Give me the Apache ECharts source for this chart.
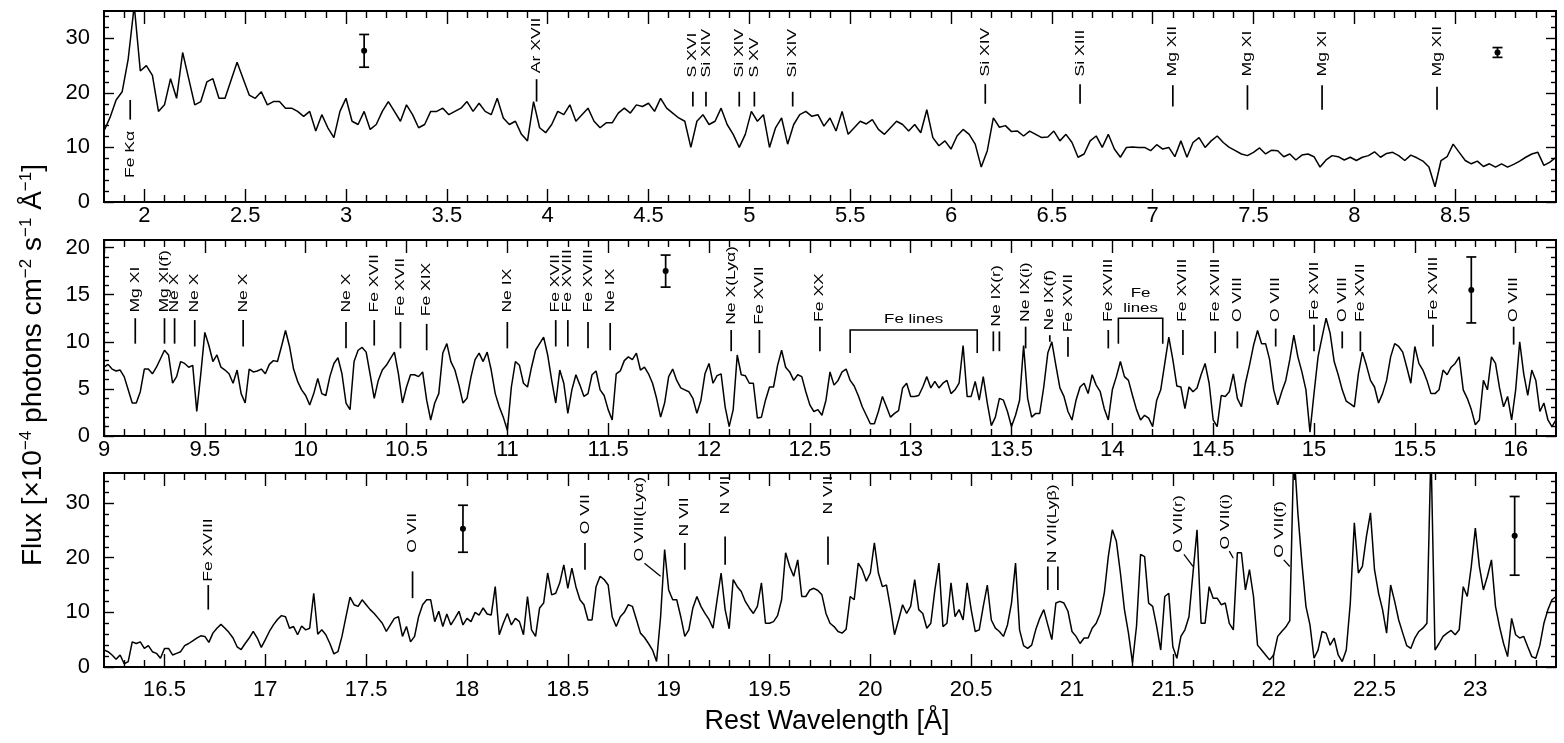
<!DOCTYPE html>
<html><head><meta charset="utf-8">
<script src="https://cdn.jsdelivr.net/npm/echarts@6/dist/echarts.min.js"></script>
<style>html,body{margin:0;padding:0;background:#fff}#c{width:1564px;height:743px}</style>
</head><body><div id="c"></div><script>
const FONT = "'Liberation Sans', Arial, Helvetica, sans-serif";

// ---------- spectrum (flux in 1e-4 photons cm^-2 s^-1 A^-1) ----------
const topStart = 1.8, topStep = 0.03;
const topFlux = [13.0,15.5,18.7,20.2,26.2,36,24,25,23.2,16.6,
17.8,22.6,19.0,27.4,22.6,17.8,18.4,22.0,22.6,19.0,
19.0,22.3,25.6,22.6,19.6,19.0,20.2,17.8,18.4,18.4,
17.2,17.2,16.6,15.7,16.6,13.0,16.0,13.6,11.8,16.6,
19.0,14.8,14.2,16.6,13.3,14.2,16.6,18.4,16.6,14.8,
17.8,16.0,13.6,14.2,16.6,16.6,17.2,16.0,16.6,17.2,
18.4,16.6,18.1,16.6,16.0,19.0,15.4,14.2,14.8,12.4,
11.2,18.4,13.6,12.7,14.2,16.6,16.0,17.8,14.8,16.0,
17.2,14.8,13.6,14.5,14.5,16.3,17.2,16.3,17.8,17.5,
18.1,16.6,19.0,17.2,16.3,15.4,14.8,10.0,14.8,16.0,
14.2,14.8,17.2,14.2,12.4,10.0,12.4,16.6,14.8,16.0,
10.0,13.6,15.4,10.6,14.2,16.0,16.6,15.7,16.0,13.9,
15.4,13.0,16.6,12.4,13.6,14.8,14.3,15.1,13.3,12.4,
13.6,14.8,14.2,13.0,14.2,12.7,16.9,11.8,10.3,11.2,
9.7,12.1,13.3,12.4,10.6,6.4,9.4,15.4,13.7,14.0,
12.9,13.0,12.1,13.0,12.4,11.8,11.9,13.0,11.2,12.4,
10.9,8.2,8.8,11.2,12.1,10.0,12.4,9.7,8.2,10.0,
10.1,10.0,10.0,9.4,10.5,9.7,10.0,8.3,11.2,8.2,
10.9,11.8,10.0,11.2,12.1,10.9,10.0,9.4,8.8,8.5,
9.1,9.9,8.8,9.5,9.4,8.3,8.8,7.7,8.6,8.8,
8.3,6.4,7.7,8.5,8.3,7.7,8.2,7.6,8.2,8.5,
9.2,8.2,8.9,9.1,8.5,7.6,8.6,8.1,7.5,6.4,
2.8,7.6,8.3,10.6,9.1,7.6,7.0,7.5,6.5,7.0,
6.4,7.0,6.4,6.9,7.5,8.2,8.8,9.1,6.7,7.3,
8.2];

const midStart = 9.0, midStep = 0.02;
const midFlux = [7.3,7.6,7.1,6.9,7.0,6.3,4.9,3.5,3.5,4.7,
7.1,7.1,6.6,7.3,8.2,9.1,8.6,5.6,6.3,7.9,
7.7,7.3,7.5,2.6,6.6,11.0,9.6,7.9,8.6,7.3,
7.0,6.6,5.6,7.0,4.5,3.5,7.1,6.8,6.9,7.1,
6.6,7.6,8.0,7.9,9.5,11.2,9.5,7.1,5.8,4.9,
4.3,3.3,4.5,6.1,4.5,4.3,6.3,7.7,8.3,6.6,
3.5,2.8,7.9,9.1,9.4,8.9,6.5,4.0,5.9,7.0,
7.5,8.2,8.9,6.6,3.5,5.2,6.5,6.5,6.3,6.8,
3.8,1.7,3.5,4.5,8.8,9.8,7.9,7.0,5.4,3.5,
4.0,6.3,8.1,8.8,7.9,8.9,7.0,4.5,3.1,2.0,
0.6,5.2,7.9,7.5,5.6,5.2,7.3,9.1,9.8,10.5,
8.6,5.9,3.5,7.0,5.6,2.4,4.9,6.5,5.4,4.2,
4.5,6.5,6.9,4.9,4.3,2.8,1.7,6.6,6.9,8.0,
8.4,8.1,8.8,7.0,7.3,6.6,5.6,4.0,2.0,3.5,
6.3,7.1,5.9,5.1,4.9,4.7,4.0,2.4,3.8,6.6,
7.7,5.6,6.4,6.6,3.1,1.0,2.8,8.6,6.5,6.4,
5.6,5.6,1.9,2.0,3.8,5.2,5.2,7.5,9.1,7.3,
6.8,5.9,6.5,6.3,4.7,3.3,2.6,2.8,2.2,3.8,
6.8,5.4,5.9,6.8,7.1,5.9,5.3,4.3,3.1,2.2,
1.3,1.3,2.6,4.2,3.1,2.0,2.4,2.7,5.1,5.6,
4.2,4.2,4.3,5.2,6.3,5.1,5.8,5.1,5.6,5.9,
4.5,4.9,5.6,9.6,4.2,4.2,5.8,3.8,6.3,3.5,
1.1,2.0,4.0,3.8,2.6,1.0,2.2,3.8,9.6,4.0,
2.0,2.4,2.4,5.2,8.8,10.0,7.5,5.1,4.2,2.6,
1.7,3.8,5.2,5.6,4.5,6.5,5.4,4.7,2.9,1.7,
4.9,6.3,7.9,6.3,5.9,4.3,2.8,1.7,2.2,1.9,
1.0,3.8,4.9,7.7,10.5,8.1,5.3,5.2,2.9,5.2,
4.7,5.1,6.5,7.7,5.6,1.7,1.0,4.3,4.2,4.7,
6.6,4.0,3.1,5.6,7.5,9.6,11.2,9.8,9.8,8.1,
4.9,3.3,4.7,5.9,8.1,10.7,8.4,6.8,4.9,0.4,
4.5,8.4,10.5,12.5,10.9,7.9,6.5,4.9,3.7,3.4,
3.1,6.6,8.9,7.5,5.9,5.2,3.5,4.5,5.9,8.4,
9.8,9.5,8.9,7.3,5.6,9.5,7.7,7.0,5.9,4.5,
4.5,4.9,7.0,6.5,7.3,7.7,8.4,4.9,4.0,2.8,
1.2,1.7,5.9,4.9,8.4,7.7,5.1,3.1,4.2,1.7,
4.9,10.0,6.6,4.3,7.0,5.9,2.6,3.5,1.7,1.0,
1.7];

const botStart = 16.2, botStep = 0.02;
const botFlux = [3.1,2.8,2.2,1.4,2.2,0.6,1.0,4.6,4.3,4.6,
3.4,3.9,2.8,2.5,1.6,3.4,3.4,2.2,2.5,2.8,
3.9,4.3,4.8,5.3,5.7,5.6,4.5,6.2,7.1,7.8,
7.1,6.3,5.3,3.7,3.2,4.3,5.3,6.5,5.3,3.6,
5.0,6.5,7.7,8.7,9.4,9.2,7.1,7.4,5.9,7.5,
6.8,7.1,13.5,6.0,6.8,5.9,4.3,2.4,2.8,5.6,
9.2,12.8,11.4,11.1,12.3,11.4,10.5,9.8,8.9,8.0,
6.5,7.7,8.9,9.2,5.6,7.4,4.6,5.6,9.2,11.4,
12.3,12.3,8.3,10.2,7.4,9.7,7.7,8.9,10.2,7.7,
8.9,8.3,10.0,9.5,10.8,9.7,9.5,14.7,5.9,8.0,
9.8,7.7,8.9,8.3,5.9,12.9,6.8,5.6,10.8,11.7,
17.2,13.2,13.5,15.4,18.7,14.4,18.1,14.7,12.3,11.4,
8.6,8.6,14.7,16.6,16.0,15.0,9.2,7.4,9.2,10.0,
11.4,11.1,8.7,6.2,5.4,4.3,3.1,1.0,9.2,21.5,
14.1,12.3,12.3,9.2,5.6,6.8,10.8,12.9,11.1,9.8,
8.7,7.1,12.3,17.2,10.5,7.0,16.0,14.7,13.8,12.0,
10.8,9.8,11.1,15.4,8.0,8.0,8.3,9.4,12.3,20.9,
18.4,16.6,19.6,12.9,12.9,14.1,14.4,14.0,13.2,9.8,
8.0,7.4,6.5,6.2,6.9,12.9,12.3,19.0,17.8,15.7,
17.2,22.7,17.2,14.7,15.0,10.8,5.9,8.6,11.4,9.8,
11.1,16.0,10.5,9.8,7.1,8.0,14.1,19.0,7.4,8.0,
15.4,9.2,10.5,8.6,15.4,10.5,6.5,6.8,11.1,15.0,
8.6,7.1,6.5,5.6,7.7,11.7,19.0,6.8,3.9,3.4,
4.0,6.8,8.9,10.5,7.7,5.0,11.7,12.0,11.7,10.2,
6.5,5.6,4.3,5.3,5.3,7.1,8.0,9.8,13.5,20.2,
25.1,23.0,17.2,10.5,6.2,0.8,7.5,20.6,20.2,11.7,
11.1,7.4,3.1,12.9,13.5,3.7,1.6,5.6,6.8,9.2,
17.2,25.1,8.0,8.0,14.7,12.6,12.6,11.4,11.7,8.0,
6.8,20.9,20.9,14.1,17.8,12.9,4.0,3.1,2.2,1.3,
2.2,5.6,6.5,7.3,8.5,40,28.2,19.0,11.1,7.7,
1.6,3.1,6.5,6.2,4.0,5.3,2.2,1.0,3.1,11.7,
26.4,17.2,18.4,23.9,28.2,17.8,13.5,10.5,6.2,15.0,
12.0,8.6,6.2,3.9,3.4,5.3,6.5,7.1,8.0,40,
3.1,4.3,5.6,6.2,6.7,5.9,6.8,14.7,12.9,18.4,
25.4,18.4,14.1,16.6,19.6,11.1,7.4,4.3,1.9,8.9,
5.9,5.3,5.6,3.7,1.9,1.6,4.0,8.0,10.5,12.3,
12.9];

// ---------- tick labels ----------
const topTicks = [2,2.5,3,3.5,4,4.5,5,5.5,6,6.5,7,7.5,8,8.5];
const midTicks = [9,9.5,10,10.5,11,11.5,12,12.5,13,13.5,14,14.5,15,15.5,16];
const botTicks = [16.5,17,17.5,18,18.5,19,19.5,20,20.5,21,21.5,22,22.5,23];
const topYTicks = [0,10,20,30];
const midYTicks = [0,5,10,15,20];
const botYTicks = [0,10,20,30];

// ---------- line identifications: [wavelength, tick low, tick high, text base, text] ----------
const topLines = [
  [1.93, 15.1, 18.7, 4.4, 'Fe Kα'],
  [3.945, 18.4, 22.5, 23.6, 'Ar XVII'],
  [4.72, 17.5, 20.2, 22.8, 'S XVI'],
  [4.785, 17.5, 20.2, 22.8, 'Si XIV'],
  [4.95, 17.5, 20.2, 22.8, 'Si XIV'],
  [5.025, 17.5, 20.2, 22.8, 'S XV'],
  [5.215, 17.5, 20.2, 22.8, 'Si XIV'],
  [6.17, 18.0, 21.6, 23.0, 'Si XIV'],
  [6.64, 18.0, 21.6, 23.0, 'Si XIII'],
  [7.10, 17.5, 21.4, 23.0, 'Mg XII'],
  [7.47, 16.9, 21.4, 23.0, 'Mg XI'],
  [7.84, 16.9, 21.4, 23.0, 'Mg XI'],
  [8.41, 16.9, 21.1, 23.0, 'Mg XII']
];
const midLines = [
  [9.155, 9.8, 12.5, 13.1, 'Mg XI'],
  [9.30, 9.8, 12.5, 13.1, 'Mg XI(f)'],
  [9.35, 9.8, 12.5, 13.1, 'Ne X'],
  [9.45, 9.5, 12.3, 13.1, 'Ne X'],
  [9.69, 9.5, 12.3, 13.1, 'Ne X'],
  [10.20, 9.3, 12.1, 13.1, 'Ne X'],
  [10.34, 9.6, 12.3, 13.1, 'Fe XVII'],
  [10.47, 9.3, 12.1, 12.7, 'Fe XVII'],
  [10.60, 9.1, 11.9, 12.7, 'Fe XIX'],
  [11.00, 9.3, 12.1, 13.1, 'Ne IX'],
  [11.24, 9.5, 12.3, 13.1, 'Fe XVII'],
  [11.30, 9.5, 12.3, 13.1, 'Fe XVIII'],
  [11.40, 9.3, 12.1, 13.1, 'Fe XVIII'],
  [11.51, 9.1, 12.0, 13.1, 'Ne IX'],
  [12.11, 9.0, 11.25, 11.8, 'Ne X(Lyα)'],
  [12.25, 8.8, 11.25, 11.8, 'Fe XVII'],
  [12.55, 9.0, 11.6, 12.1, 'Fe XX'],
  [13.41, 9.0, 11.1, null, ''],
  [13.44, 9.0, 11.1, null, ''],
  [13.425, null, null, 11.6, 'Ne IX(r)'],
  [13.57, 9.3, 11.6, 12.1, 'Ne IX(i)'],
  [13.69, 10.0, 10.7, 11.2, 'Ne IX(f)'],
  [13.78, 8.4, 10.5, 11.0, 'Fe XVII'],
  [13.98, 9.3, 11.25, 12.1, 'Fe XVIII'],
  [14.35, 8.6, 11.25, 12.1, 'Fe XVIII'],
  [14.51, 8.8, 11.1, 12.1, 'Fe XVIII'],
  [14.62, 9.3, 11.1, 12.1, 'O VIII'],
  [14.81, 9.5, 11.4, 12.1, 'O VIII'],
  [15.00, 9.0, 11.8, 12.3, 'Fe XVII'],
  [15.14, 9.3, 11.1, 12.1, 'O VIII'],
  [15.23, 9.0, 11.1, 12.1, 'Fe XVII'],
  [15.59, 9.5, 11.8, 12.3, 'Fe XVIII'],
  [15.99, 9.7, 11.6, 12.1, 'O VIII']
];
const botLines = [
  [16.717, 10.5, 15.0, 15.6, 'Fe XVIII'],
  [17.73, 12.6, 17.5, 20.9, 'O VII'],
  [18.585, 17.8, 22.7, 24.3, 'O VII'],
  [19.08, 17.8, 22.7, 23.9, 'N VII'],
  [19.28, 18.7, 23.9, 27.9, 'N VII'],
  [19.79, 18.7, 23.9, 27.9, 'N VII'],
  [20.88, 14.1, 18.4, null, ''],
  [20.93, 14.1, 18.4, null, ''],
  [20.905, null, null, 19.0, 'N VII(Lyβ)']
];
// labels with slanted leaders: [text wavelength, text base, text, x1, y1, x2, y2]
const botLeaders = [
  [18.857, 19.3, 'O VIII(Lyα)', 18.88, 19.0, 18.96, 16.6],
  [21.53, 20.9, 'O VII(r)', 21.555, 20.6, 21.60, 18.4],
  [21.76, 21.5, 'O VII(i)', 21.78, 21.2, 21.80, 19.9],
  [22.03, 20.0, 'O VII(f)', 22.05, 19.6, 22.08, 18.4]
];
// brackets: [x1, x2, top, end, text, text centre]
const midBrackets = [
  [12.70, 13.33, 11.25, 8.8, 'Fe lines', 12.4],
  [14.03, 14.25, 12.5, 9.8, 'Fe\nlines', 14.3]
];
// error bars: [wavelength, centre, half-length]
const topErr = [[3.09, 27.7, 3.0], [8.71, 27.4, 0.9]];
const midErr = [[11.785, 17.5, 1.7], [15.78, 15.5, 3.5]];
const botErr = [[17.98, 25.3, 4.3], [23.195, 24.0, 7.2]];

// ---------- helpers ----------
function pairs(start, step, arr) { return arr.map((v, i) => [+(start + i * step).toFixed(3), v]); }
function minorList(min, max, step, major) {
  const out = [];
  for (let k = Math.round(min / step) + 1; k * step < max - 1e-9; k++) {
    const v = +(k * step).toFixed(4);
    if (Math.abs(v / major - Math.round(v / major)) > 1e-6) out.push(v);
  }
  return out;
}
const fmt = v => String(+(+v).toFixed(2));
const TICK = {color: '#000', width: 1.4};

function xAxesFor(g, min, max, labels, margin) {
  const minors = minorList(min, max, 0.1, 0.5);
  const base = {gridIndex: g, type: 'value', min: min, max: max,
    axisLine: {show: false, onZero: false}, splitLine: {show: false}};
  return [
    Object.assign({}, base, {position: 'bottom',
      axisTick: {show: true, inside: true, length: 13, lineStyle: TICK, customValues: labels},
      axisLabel: {show: true, customValues: labels, margin: margin, fontSize: 22, fontFamily: FONT,
        color: '#000', formatter: fmt, showMinLabel: true, showMaxLabel: true}}),
    Object.assign({}, base, {position: 'bottom',
      axisTick: {show: true, inside: true, length: 7, lineStyle: TICK, customValues: minors},
      axisLabel: {show: false}}),
    Object.assign({}, base, {position: 'top',
      axisTick: {show: true, inside: true, length: 13, lineStyle: TICK, customValues: labels},
      axisLabel: {show: false}}),
    Object.assign({}, base, {position: 'top',
      axisTick: {show: true, inside: true, length: 7, lineStyle: TICK, customValues: minors},
      axisLabel: {show: false}})
  ];
}
function yAxesFor(g, max, labels, minorStep, majorStep) {
  const minors = minorList(0, max, minorStep, majorStep);
  const base = {gridIndex: g, type: 'value', min: 0, max: max,
    axisLine: {show: false, onZero: false}, splitLine: {show: false}};
  return [
    Object.assign({}, base, {position: 'left',
      axisTick: {show: true, inside: true, length: 10, lineStyle: TICK, customValues: labels},
      axisLabel: {show: true, customValues: labels, margin: 14, fontSize: 22, fontFamily: FONT,
        color: '#000', formatter: fmt, showMinLabel: true, showMaxLabel: true}}),
    Object.assign({}, base, {position: 'left',
      axisTick: {show: true, inside: true, length: 5, lineStyle: TICK, customValues: minors},
      axisLabel: {show: false}}),
    Object.assign({}, base, {position: 'right',
      axisTick: {show: true, inside: true, length: 10, lineStyle: TICK, customValues: labels},
      axisLabel: {show: false}}),
    Object.assign({}, base, {position: 'right',
      axisTick: {show: true, inside: true, length: 5, lineStyle: TICK, customValues: minors},
      axisLabel: {show: false}})
  ];
}

const LBL = {fontSize: 13, fontFamily: FONT, fill: '#000'};
const STRETCH = 1.35;

function spectrumSeries(g, data) {
  return {type: 'line', xAxisIndex: 4 * g, yAxisIndex: 4 * g, data: data, showSymbol: false,
    symbol: 'none', clip: true, silent: true, z: 2,
    lineStyle: {color: '#000', width: 1.5}};
}
function lineIdSeries(g, arr) {
  return {type: 'custom', xAxisIndex: 4 * g, yAxisIndex: 4 * g, silent: true, clip: false, z: 3,
    data: arr.map(a => [a[0], a[3] != null ? a[3] : a[1]]),
    renderItem: function (params, api) {
      const a = arr[params.dataIndex];
      const ch = [];
      if (a[1] != null) {
        const p1 = api.coord([a[0], a[1]]), p2 = api.coord([a[0], a[2]]);
        ch.push({type: 'line', shape: {x1: p1[0], y1: p1[1], x2: p2[0], y2: p2[1]},
          style: {stroke: '#000', lineWidth: 1.7}});
      }
      if (a[3] != null && a[4]) {
        const p = api.coord([a[0], a[3]]);
        ch.push({type: 'text', x: p[0], y: p[1], rotation: Math.PI / 2, scaleX: STRETCH,
          style: Object.assign({text: a[4], align: 'left', verticalAlign: 'middle'}, LBL)});
      }
      return {type: 'group', children: ch};
    }};
}
function leaderSeries(g, arr) {
  return {type: 'custom', xAxisIndex: 4 * g, yAxisIndex: 4 * g, silent: true, clip: false, z: 3,
    data: arr.map(a => [a[0], a[1]]),
    renderItem: function (params, api) {
      const a = arr[params.dataIndex];
      const p = api.coord([a[0], a[1]]);
      const q1 = api.coord([a[3], a[4]]), q2 = api.coord([a[5], a[6]]);
      return {type: 'group', children: [
        {type: 'line', shape: {x1: q1[0], y1: q1[1], x2: q2[0], y2: q2[1]}, style: {stroke: '#000', lineWidth: 1.3}},
        {type: 'text', x: p[0], y: p[1], rotation: Math.PI / 2, scaleX: STRETCH,
          style: Object.assign({text: a[2], align: 'left', verticalAlign: 'middle'}, LBL)}
      ]};
    }};
}
function bracketSeries(g, arr) {
  return {type: 'custom', xAxisIndex: 4 * g, yAxisIndex: 4 * g, silent: true, clip: false, z: 3,
    data: arr.map(a => [a[0], a[2]]),
    renderItem: function (params, api) {
      const a = arr[params.dataIndex];
      const a1 = api.coord([a[0], a[3]]), b1 = api.coord([a[0], a[2]]);
      const b2 = api.coord([a[1], a[2]]), a2 = api.coord([a[1], a[3]]);
      const t = api.coord([(a[0] + a[1]) / 2, a[5]]);
      return {type: 'group', children: [
        {type: 'polyline', shape: {points: [a1, b1, b2, a2]}, style: {stroke: '#000', lineWidth: 1.6, fill: null}},
        {type: 'text', x: t[0], y: t[1], scaleX: 1.3,
          style: {text: a[4], align: 'center', verticalAlign: 'middle', fontSize: 13, lineHeight: 15,
            fontFamily: FONT, fill: '#000'}}
      ]};
    }};
}
function errSeries(g, arr) {
  return {type: 'custom', xAxisIndex: 4 * g, yAxisIndex: 4 * g, silent: true, clip: false, z: 3,
    data: arr.map(a => [a[0], a[1]]),
    renderItem: function (params, api) {
      const a = arr[params.dataIndex];
      const t = api.coord([a[0], a[1] + a[2]]), b = api.coord([a[0], a[1] - a[2]]), c = api.coord([a[0], a[1]]);
      const s = {stroke: '#000', lineWidth: 1.7};
      return {type: 'group', children: [
        {type: 'line', shape: {x1: t[0], y1: t[1], x2: b[0], y2: b[1]}, style: s},
        {type: 'line', shape: {x1: t[0] - 5, y1: t[1], x2: t[0] + 5, y2: t[1]}, style: s},
        {type: 'line', shape: {x1: b[0] - 5, y1: b[1], x2: b[0] + 5, y2: b[1]}, style: s},
        {type: 'circle', shape: {cx: c[0], cy: c[1], r: 3}, style: {fill: '#000'}}
      ]};
    }};
}

const gridBase = {left: 104, right: 8, show: true, borderColor: '#000', borderWidth: 2, backgroundColor: 'transparent'};

const option = {
  animation: false,
  backgroundColor: '#fff',
  grid: [
    Object.assign({top: 11, height: 191}, gridBase),
    Object.assign({top: 240, height: 196}, gridBase),
    Object.assign({top: 473, height: 194}, gridBase)
  ],
  xAxis: [].concat(
    xAxesFor(0, 1.8, 9.0, topTicks, 3),
    xAxesFor(1, 9.0, 16.2, midTicks, 3),
    xAxesFor(2, 16.2, 23.4, botTicks, 12)
  ),
  yAxis: [].concat(
    yAxesFor(0, 35, topYTicks, 2, 10),
    yAxesFor(1, 20.8, midYTicks, 1, 5),
    yAxesFor(2, 35.5, botYTicks, 2, 10)
  ),
  series: [
    spectrumSeries(0, pairs(topStart, topStep, topFlux)),
    spectrumSeries(1, pairs(midStart, midStep, midFlux)),
    spectrumSeries(2, pairs(botStart, botStep, botFlux)),
    lineIdSeries(0, topLines),
    lineIdSeries(1, midLines),
    lineIdSeries(2, botLines),
    leaderSeries(2, botLeaders),
    bracketSeries(1, midBrackets),
    errSeries(0, topErr),
    errSeries(1, midErr),
    errSeries(2, botErr)
  ],
  graphic: [
    {type: 'text', x: 33, y: 365, rotation: Math.PI / 2,
      style: {text: '{n|Flux [×10}{s|−4}{n| photons cm}{s|−2}{n| s}{s|−1}{n| Å}{s|−1}{n|]}',
        align: 'center', verticalAlign: 'middle',
        rich: {n: {fontSize: 28, fontFamily: FONT, fill: '#000', lineHeight: 30},
               s: {fontSize: 17, fontFamily: FONT, fill: '#000', verticalAlign: 'top', lineHeight: 30}}}},
    {type: 'text', x: 827, y: 722,
      style: {text: 'Rest Wavelength [Å]', align: 'center', verticalAlign: 'middle',
        fontSize: 27, fontFamily: FONT, fill: '#000'}}
  ]
};

const chart = echarts.init(document.getElementById('c'), null, {renderer: 'canvas'});
chart.setOption(option);
</script></body></html>
